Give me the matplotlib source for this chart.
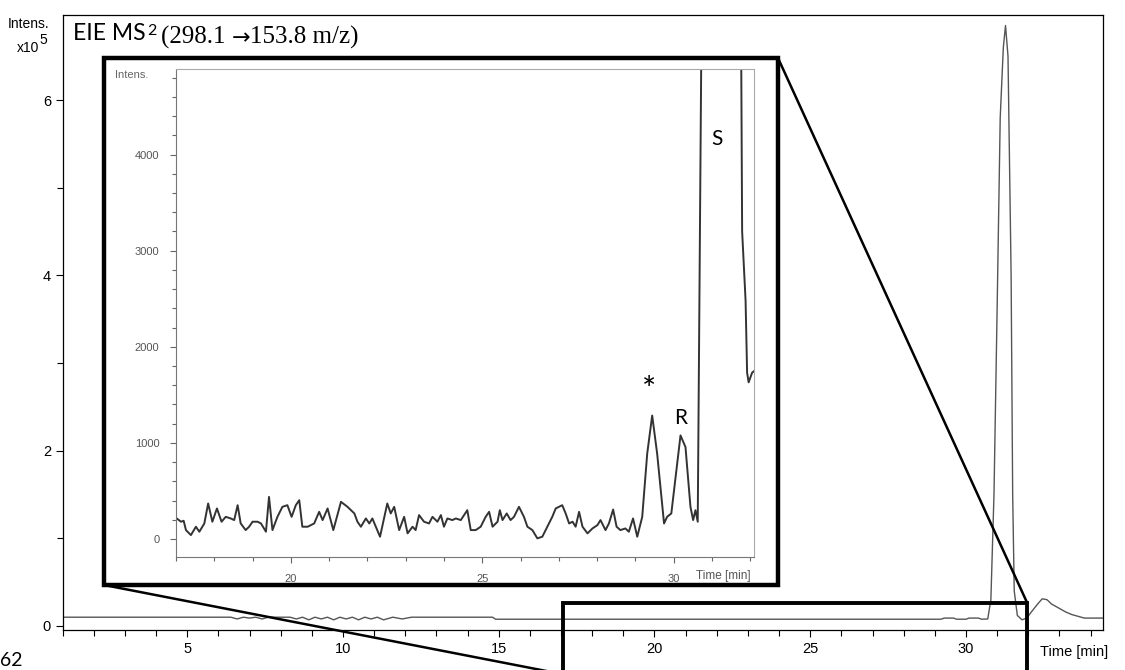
import matplotlib
matplotlib.use("Agg")
import matplotlib.pyplot as plt
from matplotlib.ticker import MultipleLocator, FixedLocator
from matplotlib.patches import Rectangle

plt.rcParams['font.family'] = ['Liberation Sans', 'DejaVu Sans']

# main chromatogram (time in min, intensity in 1e5 counts)
main_t = [1.0, 2.2, 6.4, 6.6, 6.8, 7.0, 7.2, 7.4, 7.6, 8.3, 8.5, 8.7, 8.9, 9.1,
          9.3, 9.5, 9.7, 9.9, 10.1, 10.3, 10.5, 10.7, 10.9, 11.1, 11.3, 11.6,
          11.9, 12.2, 14.8, 14.9, 29.2, 29.3, 29.6, 29.7, 30.0, 30.1, 30.4,
          30.5, 30.7, 30.8, 30.9, 31.0, 31.1, 31.2, 31.27, 31.35, 31.45, 31.5,
          31.55, 31.65, 31.8, 31.95, 32.1, 32.3, 32.45, 32.6, 32.75, 32.9,
          33.0, 33.2, 33.4, 33.6, 33.8, 34.4]
main_i = [0.10, 0.10, 0.10, 0.08, 0.10, 0.09, 0.10, 0.08, 0.10, 0.10, 0.08,
          0.10, 0.07, 0.10, 0.08, 0.10, 0.07, 0.10, 0.08, 0.10, 0.07, 0.10,
          0.08, 0.10, 0.07, 0.10, 0.08, 0.10, 0.10, 0.077, 0.077, 0.09,
          0.09, 0.077, 0.077, 0.09, 0.09, 0.077, 0.08, 0.3, 1.5, 3.6, 5.8,
          6.6, 6.85, 6.5, 4.0, 1.5, 0.4, 0.12, 0.07, 0.09, 0.16, 0.25, 0.31,
          0.30, 0.25, 0.22, 0.20, 0.16, 0.13, 0.11, 0.09, 0.09]

# zoomed trace (time in min, intensity in counts)
zoom_t = [17.02, 17.13, 17.20, 17.26, 17.39, 17.52, 17.61, 17.74, 17.84, 17.95,
          18.07, 18.19, 18.30, 18.43, 18.52, 18.61, 18.69, 18.82, 18.91, 19.00,
          19.13, 19.22, 19.35, 19.43, 19.52, 19.65, 19.78, 19.91, 20.02, 20.13,
          20.22, 20.30, 20.44, 20.61, 20.74, 20.83, 20.96, 21.11, 21.18, 21.31,
          21.48, 21.66, 21.74, 21.83, 21.96, 22.05, 22.13, 22.33, 22.52, 22.61,
          22.70, 22.83, 22.96, 23.05, 23.18, 23.26, 23.35, 23.48, 23.61, 23.70,
          23.83, 23.92, 24.00, 24.09, 24.22, 24.31, 24.44, 24.61, 24.70, 24.83,
          24.96, 25.09, 25.18, 25.27, 25.40, 25.46, 25.53, 25.64, 25.74, 25.83,
          25.96, 26.09, 26.18, 26.31, 26.44, 26.57, 26.70, 26.83, 26.92, 27.09,
          27.18, 27.27, 27.36, 27.44, 27.53, 27.62, 27.75, 27.88, 28.01, 28.09,
          28.22, 28.31, 28.42, 28.51, 28.61, 28.74, 28.83, 28.94, 29.05, 29.18,
          29.31, 29.44, 29.57, 29.75, 29.83, 29.94, 30.18, 30.31, 30.44, 30.51,
          30.57, 30.63, 30.76, 31.74, 31.79, 31.88, 31.92, 31.96, 32.05, 32.11]
zoom_i = [214, 180, 190, 93, 41, 128, 76, 162, 370, 180,
          318, 180, 231, 214, 197, 352, 162, 93, 128, 180,
          180, 162, 76, 438, 93, 231, 335, 352, 231, 352,
          404, 128, 128, 162, 283, 197, 318, 93, 197, 387,
          335, 266, 180, 128, 214, 162, 214, 24, 370, 266,
          335, 93, 231, 59, 128, 93, 249, 180, 162, 231,
          180, 249, 128, 214, 197, 214, 197, 300, 93, 93,
          128, 231, 283, 128, 180, 300, 197, 266, 197, 231,
          335, 231, 128, 93, 7, 24, 128, 231, 318, 352,
          266, 162, 180, 128, 283, 128, 59, 110, 145, 197,
          93, 162, 307, 128, 93, 110, 76, 214, 24, 231,
          888, 1285, 888, 162, 231, 266, 1078, 957, 335, 197,
          300, 180, 7000, 7000, 3200, 2480, 1730, 1630, 1730, 1750]

peak_labels = ["*", "R", "S"]
peak_t = [29.35, 30.18, 31.12]
peak_y = [1544, 1254, 4166]

W, H = 1125, 670
fig = plt.figure(figsize=(W / 100, H / 100), dpi=100)

# ---- main chromatogram
ax = fig.add_axes([62.7 / W, 1 - 630 / H, (1103 - 62.7) / W, (630 - 15) / H])
ax.plot(main_t, main_i, color='#555555', lw=1.0)
ax.set_xlim(1.0, 34.4)
ax.set_ylim(-0.046, 6.97)
ax.xaxis.set_major_locator(FixedLocator([5, 10, 15, 20, 25, 30]))
ax.xaxis.set_minor_locator(MultipleLocator(1))
ax.yaxis.set_major_locator(FixedLocator([0, 2, 4, 6]))
ax.yaxis.set_minor_locator(FixedLocator([1, 3, 5]))
ax.tick_params(which='both', direction='out', labelsize=10.5, width=0.8)
ax.tick_params(which='major', length=5)
ax.tick_params(which='minor', length=4)
for s in ax.spines.values():
    s.set_linewidth(0.9)
ax.annotate("Time [min]", xy=(1, 0), xycoords='axes fraction', xytext=(-45, -11),
            textcoords='offset points', ha='left', va='top', fontsize=10.5)

fig.text(8 / W, 1 - 28 / H, "Intens.", fontsize=10, ha='left', va='baseline')
t10 = fig.text(17 / W, 1 - 52 / H, "x10", fontsize=10, ha='left', va='baseline')
ax.annotate("5", xy=(1, 0.55), xycoords=t10, ha='left', va='bottom', fontsize=10)

# title
sans = ['Lato', 'DejaVu Sans']
serif = ['Liberation Serif', 'DejaVu Serif']
t1 = fig.text(73 / W, 1 - 40 / H, "EIE MS", fontsize=16.5, family=sans, va='baseline')
t2 = ax.annotate("2", xy=(1, 0.95), xycoords=t1, xytext=(1, 0), textcoords='offset points',
                 fontsize=11.5, family=sans, va='top')
t3 = ax.annotate("(298.1 ", xy=(1, 0), xycoords=(t2, t1), xytext=(3, 0),
                 textcoords='offset points', fontsize=18, family=serif, va='baseline')
t4 = ax.annotate("\u2192", xy=(1, 0), xycoords=(t3, t1), xytext=(0, 0),
                 textcoords='offset points', fontsize=16, family=['DejaVu Sans'],
                 va='baseline')
ax.annotate("153.8 m/z)", xy=(1, 0), xycoords=(t4, t1), xytext=(0, 0),
            textcoords='offset points', fontsize=18, family=serif, va='baseline')

fig.text(0, 1 - 652 / H, "62", fontsize=14, family=sans, ha='left', va='top')

# ---- overlay in pixel coords for the zoom box and connectors
ov = fig.add_axes([0, 0, 1, 1], zorder=1)
ov.set_xlim(0, W)
ov.set_ylim(0, H)
ov.axis('off')

zoom_x = (17.05, 31.97)
zoom_top = 0.26
zoom_bot = -0.55
(zx0, zy0), (zx1, zy1) = ax.transData.transform([(zoom_x[0], zoom_bot), (zoom_x[1], zoom_top)])
ov.plot([zx0, zx0, zx1, zx1], [zy0, zy1, zy1, zy0], color='black', lw=2.8,
        solid_joinstyle='miter', clip_on=False)

box_l, box_r, box_t, box_b = 104, 778, H - 58, H - 585
ov.add_patch(Rectangle((box_l, box_b), box_r - box_l, box_t - box_b,
                       facecolor='white', edgecolor='black', lw=3.2, zorder=3))
ov.plot([box_l, zx0], [box_b, zy0], color='black', lw=1.8, zorder=2)
ov.plot([box_r, zx1], [box_t, zy1], color='black', lw=1.8, zorder=2)

# ---- inset
ax2 = fig.add_axes([176 / W, 1 - 557 / H, (754 - 176) / W, (557 - 69) / H], zorder=2)
ax2.plot(zoom_t, zoom_i, color='#333333', lw=1.4, solid_joinstyle='round')
ax2.set_xlim(17.0, 32.1)
ax2.set_ylim(-187, 4890)
ax2.xaxis.set_major_locator(FixedLocator([20, 25, 30]))
ax2.xaxis.set_minor_locator(MultipleLocator(1))
ax2.yaxis.set_major_locator(FixedLocator([0, 1000, 2000, 3000, 4000]))
ax2.yaxis.set_minor_locator(MultipleLocator(200))
ax2.tick_params(which='both', direction='out', labelsize=8, colors='#666666',
                labelcolor='#555555', width=0.8)
ax2.tick_params(which='major', length=4, pad=8)
ax2.tick_params(which='minor', length=3)
for side in ['left', 'bottom']:
    ax2.spines[side].set_color('#777777')
for side in ['top', 'right']:
    ax2.spines[side].set_color('#aaaaaa')
ax2.annotate("Time [min]", xy=(1, 0), xycoords='axes fraction', xytext=(-42, -9),
             textcoords='offset points', ha='left', va='top', fontsize=8.5, color='#555555')
ax2.annotate("Intens.", xy=(0, 1), xycoords='axes fraction', xytext=(-44, -4),
             textcoords='offset points', ha='left', va='center', fontsize=8,
             color='#666666')

label_size = [24, 15, 15]
for lab, tx, ty, fs in zip(peak_labels, peak_t, peak_y, label_size):
    ax2.text(tx, ty, lab, fontsize=fs, family=sans, ha='center', va='center',
             color='black')

fig.savefig("out.png", dpi=100)
